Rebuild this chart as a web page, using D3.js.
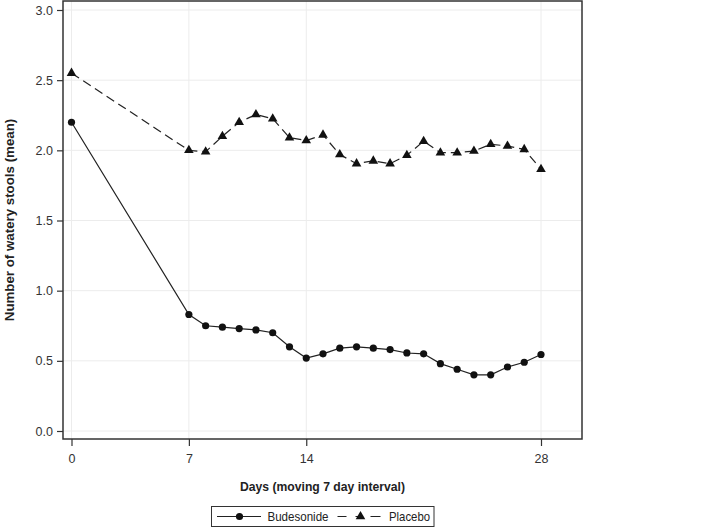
<!DOCTYPE html>
<html>
<head>
<meta charset="utf-8">
<script src="https://cdn.jsdelivr.net/npm/d3@7"></script>
<style>
  html, body { margin: 0; padding: 0; background: #fff; }
  svg { display: block; font-family: "Liberation Sans", Arial, Helvetica, sans-serif; }
</style>
</head>
<body>
<svg id="chart" width="709" height="527"></svg>
<script>
// ---- data ----
const days = [0, 7, 8, 9, 10, 11, 12, 13, 14, 15, 16, 17, 18, 19, 20, 21, 22, 23, 24, 25, 26, 27, 28];
const budesonide = [2.20, 0.83, 0.75, 0.74, 0.73, 0.72, 0.70, 0.60, 0.52, 0.55, 0.59, 0.60, 0.59, 0.58, 0.556, 0.55, 0.48, 0.44, 0.40, 0.40, 0.456, 0.49, 0.545];
const placebo = [2.55, 2.00, 1.99, 2.10, 2.20, 2.255, 2.225, 2.09, 2.07, 2.11, 1.97, 1.905, 1.925, 1.905, 1.965, 2.065, 1.983, 1.983, 1.995, 2.043, 2.031, 2.007, 1.865];
const xTicks = [0, 7, 14, 28];
const yTicks = [0.0, 0.5, 1.0, 1.5, 2.0, 2.5, 3.0];
const seriesNames = ["Budesonide", "Placebo"];
const xTitle = "Days (moving 7 day interval)";
const yTitle = "Number of watery stools (mean)";

// ---- layout ----
const svg = d3.select("#chart");
const frame = { left: 63, right: 582, top: 1, bottom: 439 };
const x = d3.scaleLinear().domain([0, 28]).range([71.5, 541]);
const y = d3.scaleLinear().domain([0, 3]).range([431, 10]);
const ink = "#222";
const font = "Liberation Sans, Arial, sans-serif";

// gridlines
const grid = svg.append("g");
grid.selectAll("line.gy").data(yTicks).enter().append("line")
  .attr("x1", frame.left).attr("x2", frame.right)
  .attr("y1", d => y(d)).attr("y2", d => y(d))
  .attr("stroke", "#ececec").attr("stroke-width", 1);
grid.selectAll("line.gx").data(xTicks).enter().append("line")
  .attr("y1", frame.top).attr("y2", frame.bottom)
  .attr("x1", d => x(d)).attr("x2", d => x(d))
  .attr("stroke", "#ececec").attr("stroke-width", 1);

// frame
svg.append("rect")
  .attr("x", frame.left).attr("y", frame.top)
  .attr("width", frame.right - frame.left).attr("height", frame.bottom - frame.top)
  .attr("fill", "none").attr("stroke", "#333").attr("stroke-width", 1.5);

// axes
const yAxis = d3.axisLeft(y).tickValues(yTicks).tickFormat(d3.format(".1f")).tickSize(6).tickPadding(4);
const gy = svg.append("g").attr("transform", `translate(${frame.left},0)`).call(yAxis);
gy.select(".domain").remove();
gy.selectAll(".tick line").attr("stroke", "#333").attr("stroke-width", 1.2);
gy.selectAll(".tick text").attr("font-size", 12.5).attr("fill", "#333").attr("font-family", font);

const xAxis = d3.axisBottom(x).tickValues(xTicks).tickFormat(d3.format("d")).tickSize(7).tickPadding(8);
const gx = svg.append("g").attr("transform", `translate(0,${frame.bottom})`).call(xAxis);
gx.select(".domain").remove();
gx.selectAll(".tick line").attr("stroke", "#333").attr("stroke-width", 1.2);
gx.selectAll(".tick text").attr("font-size", 12.5).attr("fill", "#333").attr("font-family", font);

// titles
svg.append("text")
  .attr("x", (frame.left + frame.right) / 2).attr("y", 491)
  .attr("text-anchor", "middle").attr("font-size", 13).attr("font-weight", "bold")
  .attr("textLength", 165).attr("lengthAdjust", "spacingAndGlyphs")
  .attr("fill", "#222").text(xTitle);
svg.append("text")
  .attr("transform", `translate(14,${(frame.top + frame.bottom) / 2}) rotate(-90)`)
  .attr("text-anchor", "middle").attr("font-size", 13.3).attr("font-weight", "bold")
  .attr("fill", "#222").text(yTitle);

// lines
const line = d3.line().x(d => x(d[0])).y(d => y(d[1]));
const budData = days.map((d, i) => [d, budesonide[i]]);
const plaData = days.map((d, i) => [d, placebo[i]]);

svg.append("path").datum(plaData).attr("d", line)
  .attr("fill", "none").attr("stroke", ink).attr("stroke-width", 1.2)
  .attr("stroke-dasharray", "9,5");
svg.append("path").datum(budData).attr("d", line)
  .attr("fill", "none").attr("stroke", ink).attr("stroke-width", 1.2);

const tri = d3.symbol().type(d3.symbolTriangle).size(40);
svg.append("g").selectAll("path").data(plaData).enter().append("path")
  .attr("d", tri)
  .attr("transform", d => `translate(${x(d[0])},${y(d[1])})`)
  .attr("fill", "#111");
svg.append("g").selectAll("circle").data(budData).enter().append("circle")
  .attr("cx", d => x(d[0])).attr("cy", d => y(d[1])).attr("r", 3.6)
  .attr("fill", "#111");

// legend
const lg = svg.append("g");
lg.append("rect").attr("x", 211.5).attr("y", 506.5).attr("width", 222.5).attr("height", 20)
  .attr("fill", "#fff").attr("stroke", "#333").attr("stroke-width", 1);
const ly = 516.5;
lg.append("line").attr("x1", 217).attr("x2", 261).attr("y1", ly).attr("y2", ly)
  .attr("stroke", ink).attr("stroke-width", 1.2);
lg.append("circle").attr("cx", 239.5).attr("cy", ly).attr("r", 3.6).attr("fill", "#111");
lg.append("text").attr("x", 267.5).attr("y", ly + 4.5).attr("font-size", 13).attr("fill", "#222")
  .attr("textLength", 61).attr("lengthAdjust", "spacingAndGlyphs").text(seriesNames[0]);
lg.append("line").attr("x1", 337.5).attr("x2", 381).attr("y1", ly).attr("y2", ly)
  .attr("stroke", ink).attr("stroke-width", 1.2).attr("stroke-dasharray", "9,9,7,8,10");
lg.append("path").attr("d", tri).attr("transform", `translate(360.5,${ly})`).attr("fill", "#111");
lg.append("text").attr("x", 389).attr("y", ly + 4.5).attr("font-size", 13).attr("fill", "#222")
  .attr("textLength", 41).attr("lengthAdjust", "spacingAndGlyphs").text(seriesNames[1]);
</script>
</body>
</html>
